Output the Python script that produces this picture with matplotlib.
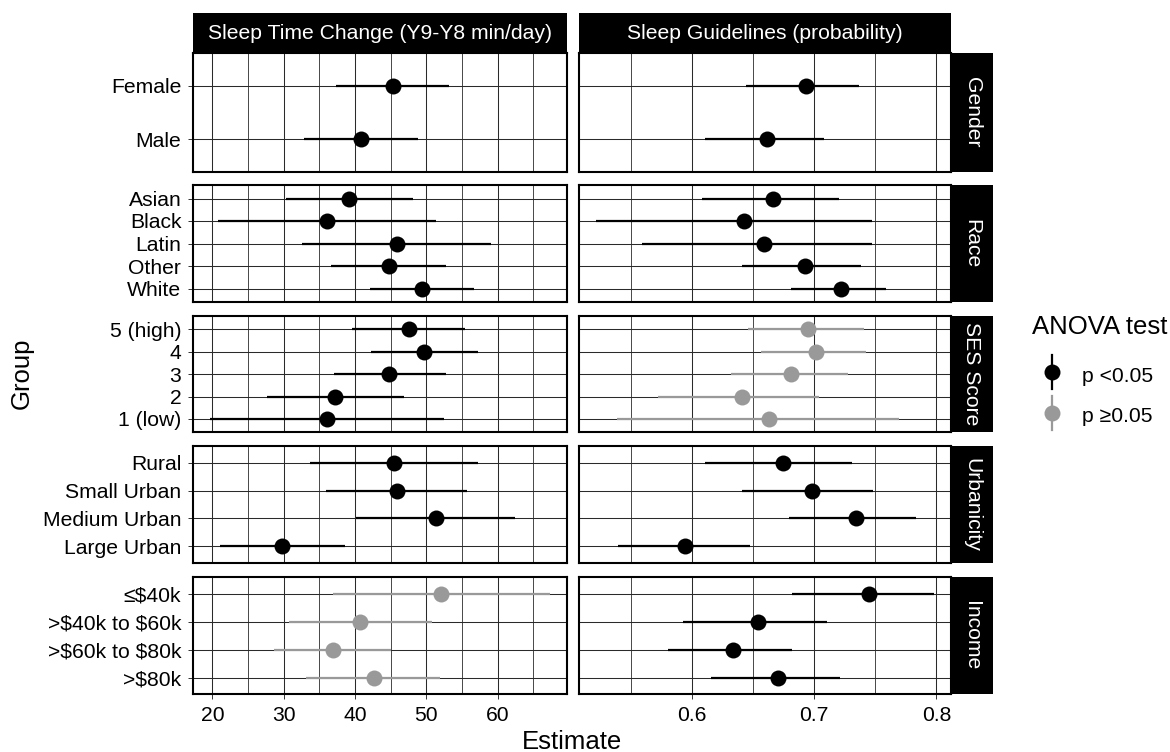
import matplotlib
matplotlib.use("Agg")
import matplotlib.pyplot as plt
from matplotlib.lines import Line2D
import numpy as np

plt.rcParams['font.family'] = ['Liberation Sans', 'DejaVu Sans']

# ---- data ----
facet_names = ["Gender", "Race", "SES Score", "Urbanicity", "Income"]
group_labels = [
    ["Female", "Male"],
    ["Asian", "Black", "Latin", "Other", "White"],
    ["5 (high)", "4", "3", "2", "1 (low)"],
    ["Rural", "Small Urban", "Medium Urban", "Large Urban"],
    ["\u2264\\$40k", ">\\$40k to \\$60k", ">\\$60k to \\$80k", ">\\$80k"],
]

# Sleep Time Change (Y9-Y8 min/day)
time_est = [[45.3, 40.9], [39.2, 36.1, 45.9, 44.8, 49.4],
            [47.6, 49.7, 44.8, 37.2, 36.1], [45.4, 45.9, 51.3, 29.8],
            [52.1, 40.7, 36.9, 42.6]]
time_lo = [[37.4, 32.9], [30.3, 20.8, 32.6, 36.7, 42.1],
           [39.6, 42.2, 37.0, 27.6, 19.7], [33.7, 36.0, 40.1, 21.1],
           [36.9, 30.7, 28.7, 33.2]]
time_hi = [[53.2, 48.8], [48.2, 51.3, 59.1, 52.8, 56.7],
           [55.4, 57.3, 52.8, 46.8, 52.5], [57.2, 55.7, 62.4, 38.6],
           [67.3, 50.8, 45.0, 51.9]]
time_sig = [True, True, True, True, False]

# Sleep Guidelines (probability)
prob_est = [[0.693, 0.661], [0.666, 0.642, 0.659, 0.692, 0.722],
            [0.695, 0.701, 0.681, 0.641, 0.663], [0.674, 0.698, 0.734, 0.594],
            [0.745, 0.654, 0.633, 0.670]]
prob_lo = [[0.644, 0.610], [0.608, 0.521, 0.559, 0.641, 0.681],
           [0.646, 0.656, 0.632, 0.572, 0.538], [0.610, 0.641, 0.679, 0.539],
           [0.682, 0.592, 0.580, 0.615]]
prob_hi = [[0.737, 0.708], [0.720, 0.747, 0.747, 0.738, 0.759],
           [0.741, 0.742, 0.728, 0.704, 0.769], [0.731, 0.748, 0.783, 0.647],
           [0.798, 0.710, 0.682, 0.721]]
prob_sig = [True, True, False, True, True]

col_titles = ["Sleep Time Change (Y9-Y8 min/day)", "Sleep Guidelines (probability)"]
legend_labels = ["p <0.05", "p \u22650.05"]
legend_colors = ["black", "#999999"]

# ---- layout (pixels) ----
W, H = 1170, 752
rows_y = [(53.3, 171.7), (185, 302), (316, 432.3), (446, 563), (577, 694.3)]
cols_x = [(193.3, 566.7), (579.3, 951)]
strip_top = (13.3, 53.3)
strip_right = (951, 993)

fig = plt.figure(figsize=(W / 100, H / 100), dpi=100)


def px_axes(x0, y0, x1, y1):
    return fig.add_axes([x0 / W, 1 - y1 / H, (x1 - x0) / W, (y1 - y0) / H])


FS_TXT = 15.2
FS_TITLE = 18.5
GRID_C = '#2a2a2a'

col_data = [(time_est, time_lo, time_hi, time_sig),
            (prob_est, prob_lo, prob_hi, prob_sig)]
col_xlim = [(17.33, 69.68), (0.5074, 0.8120)]
col_major = [np.arange(20, 61, 10), np.array([0.6, 0.7, 0.8])]
col_minor = [np.arange(25, 66, 10), np.array([0.55, 0.65, 0.75])]
col_ticklabels = [["20", "30", "40", "50", "60"], ["0.6", "0.7", "0.8"]]

for r, (y0, y1) in enumerate(rows_y):
    labels = group_labels[r]
    n = len(labels)
    ypos = np.arange(n)[::-1]
    for c, (x0, x1) in enumerate(cols_x):
        est, lo, hi, sig = col_data[c]
        ax = px_axes(x0, y0, x1, y1)
        color = 'black' if sig[r] else '#999999'
        ax.set_axisbelow(True)
        ax.hlines(ypos, lo[r], hi[r], color=color, lw=1.6, zorder=3)
        ax.plot(est[r], ypos, 'o', ms=11.5, color=color, mec='none', zorder=4)
        ax.set_xlim(*col_xlim[c])
        ax.set_ylim(-0.6, n - 0.4)
        ax.set_xticks(col_major[c])
        ax.set_xticks(col_minor[c], minor=True)
        ax.set_yticks(ypos)
        ax.grid(which='major', axis='both', color=GRID_C, lw=0.75)
        ax.grid(which='minor', axis='x', color=GRID_C, lw=0.6)
        for sp in ax.spines.values():
            sp.set_color('black')
            sp.set_linewidth(1.5)
        ax.tick_params(which='minor', length=0)
        if c == 0:
            ax.set_yticklabels(labels, fontsize=FS_TXT, color='black')
            ax.tick_params(axis='y', length=3.6, width=0.7, pad=5, color='#333333')
        else:
            ax.set_yticklabels([])
            ax.tick_params(axis='y', length=0)
        if r == len(rows_y) - 1:
            ax.set_xticklabels(col_ticklabels[c], fontsize=FS_TXT, color='black')
            ax.tick_params(axis='x', length=3.6, width=0.7, pad=5, color='#333333')
        else:
            ax.set_xticklabels([])
            ax.tick_params(axis='x', length=0)

    # right strip
    sax = px_axes(strip_right[0], y0, strip_right[1], y1)
    sax.set_facecolor('black')
    sax.set_xticks([])
    sax.set_yticks([])
    for sp in sax.spines.values():
        sp.set_visible(False)
    sax.text(0.5, 0.5, facet_names[r], rotation=-90, ha='center', va='center',
             color='white', fontsize=FS_TXT, transform=sax.transAxes)

# top strips
for c, (x0, x1) in enumerate(cols_x):
    sax = px_axes(x0, strip_top[0], x1, strip_top[1])
    sax.set_facecolor('black')
    sax.set_xticks([])
    sax.set_yticks([])
    for sp in sax.spines.values():
        sp.set_visible(False)
    sax.text(0.5, 0.5, col_titles[c], ha='center', va='center',
             color='white', fontsize=FS_TXT, transform=sax.transAxes)

# axis titles
fig.text(21.7 / W, 1 - 373.5 / H, "Group", rotation=90, ha='center', va='center',
         fontsize=FS_TITLE)
fig.text(572 / W, 1 - 742 / H, "Estimate", ha='center', va='center',
         fontsize=FS_TITLE)

# legend
fig.text(1032 / W, 1 - 334 / H, "ANOVA test", ha='left', va='baseline',
         fontsize=FS_TITLE)
key_y = [372, 413]
label_base = [381.5, 421.5]
for i in range(2):
    ky = key_y[i]
    fig.add_artist(Line2D([1052 / W, 1052 / W], [1 - (ky - 16.5) / H, 1 - (ky + 16.5) / H],
                          color=legend_colors[i], lw=1.6, transform=fig.transFigure))
    fig.add_artist(Line2D([1052 / W], [1 - ky / H], marker='o', ms=11.5,
                          color=legend_colors[i], mec='none', linestyle='none',
                          transform=fig.transFigure))
    fig.text(1082 / W, 1 - label_base[i] / H, legend_labels[i], ha='left',
             va='baseline', fontsize=FS_TXT)

fig.savefig("out.png", dpi=100)
